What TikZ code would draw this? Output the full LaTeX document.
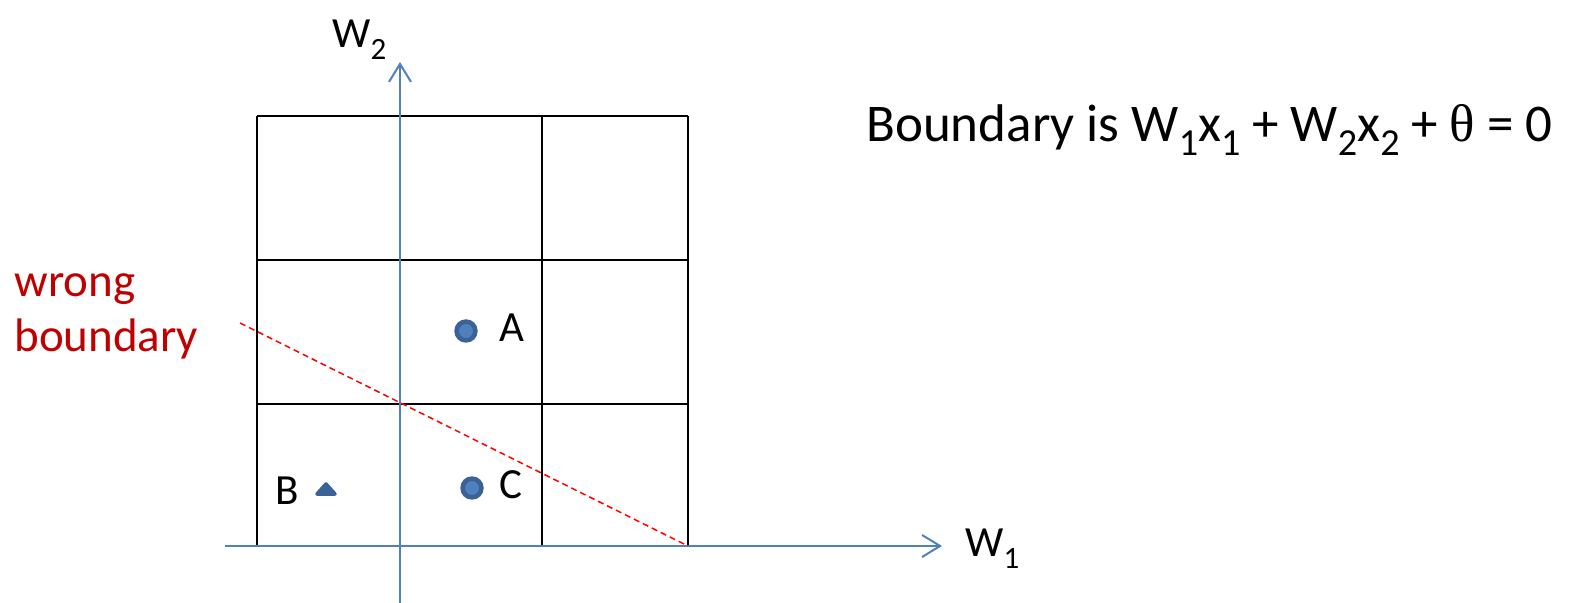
\documentclass[tikz,border=0pt]{standalone}
\usepackage{fontspec}
\setmainfont{Carlito}
\newfontfamily\thetafont{Liberation Serif}
\usetikzlibrary{arrows.meta,shapes.geometric}
\definecolor{axisblue}{HTML}{4F81BD}
\definecolor{ptedge}{HTML}{3B6296}
\definecolor{wrongred}{HTML}{C00000}
\newcommand\mysub[1]{\raisebox{-0.26em}{\scalebox{0.72}{#1}}}
\begin{document}
\begin{tikzpicture}[x=0.5pt,y=-0.5pt,
  gridline/.style={black,line width=1.1pt},
  axisline/.style={axisblue,line width=1pt,-{Straight Barb[length=9pt,width=11pt,line width=1pt]}},
  lbl/.style={font=\fontsize{21.5}{25}\selectfont,inner sep=0pt},
  pt/.style={circle,draw=ptedge,fill=axisblue,line width=2.3pt,minimum size=9.4pt,inner sep=0pt},
  tri/.style={fill=ptedge,draw=ptedge,line width=1.8pt,line join=round}
]
\useasboundingbox (0,0) rectangle (1570,603);
% grid
\foreach \x in {257,400,542,688} \draw[gridline] (\x,116) -- (\x,546);
\foreach \y in {116,260,404,546} \draw[gridline] (257,\y) -- (688,\y);
% axes
\coordinate (xs) at (225,546);
\coordinate (xe) at (942,546);
\coordinate (ys) at (400,603);
\coordinate (ye) at (400,62);
\draw[axisline] (xs) -- (xe);
\draw[axisline] (ys) -- (ye);
\node[lbl,anchor=base west] (w1) at (965,557) {W\mysub{1}};
\node[lbl,anchor=base west] (w2) at (332,48) {W\mysub{2}};
% wrong boundary
\coordinate (b1) at (240,323);
\coordinate (b2) at (688,546);
\draw[red,line width=0.75pt,dash pattern=on 3pt off 2pt] (b1) -- (b2);
\node[lbl,text=wrongred,align=left,anchor=base west,font=\fontsize{23.5}{27.5}\selectfont] (wb) at (14,352) {wrong\\boundary};
% points
\node[pt] (A) at (466,331) {};
\node[pt] (C) at (472,488) {};
\filldraw[tri] (317,494) -- (335,494) -- (326,484) -- cycle;
\node[lbl,anchor=base west] (la) at (499,342) {A};
\node[lbl,anchor=base west] (lc) at (499,499) {C};
\node[lbl,anchor=base west] (lb) at (275,505) {B};
% equation
\node[anchor=base west,inner sep=0pt,font=\fontsize{26.5}{30}\selectfont] (eq) at (866,142) {Boundary is W\mysub{1}x\mysub{1} + W\mysub{2}x\mysub{2} + {\thetafont θ} = 0};
\end{tikzpicture}
\end{document}
